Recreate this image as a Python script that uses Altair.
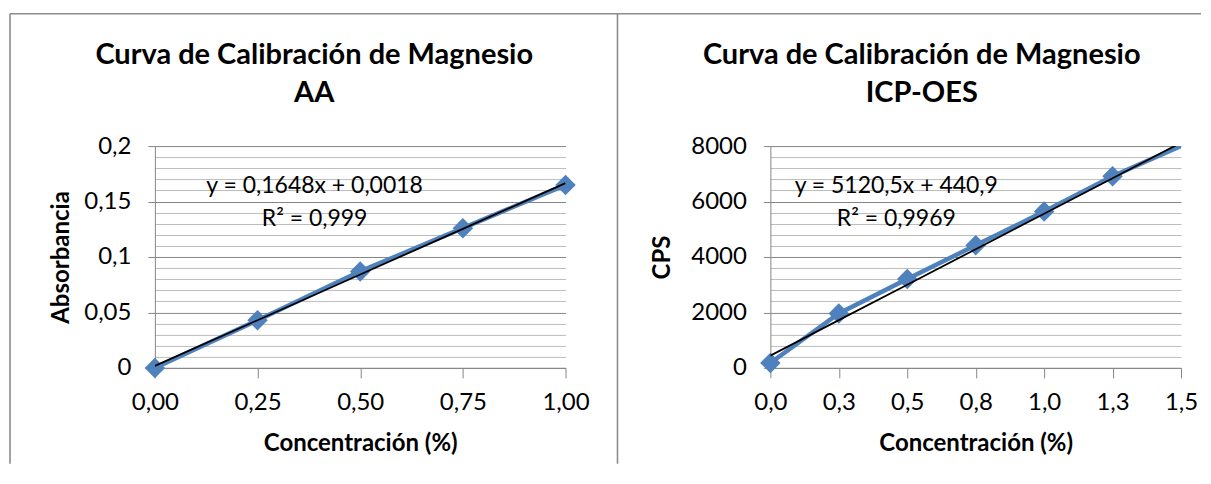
import altair as alt
import pandas as pd

# ---- data ----
aa_conc = [0.0, 0.25, 0.5, 0.75, 1.0]
aa_abs = [0.0, 0.043, 0.087, 0.126, 0.165]
aa_slope, aa_intercept = 0.1648, 0.0018
aa_eq = ["y = 0,1648x + 0,0018", "R² = 0,999"]
aa_eq_x = [0.389, 0.389]
aa_eq_y = [0.164, 0.134]

icp_conc = [0.0, 0.25, 0.5, 0.75, 1.0, 1.25, 1.75]
icp_cps = [180, 1960, 3210, 4420, 5640, 6910, 9100]
icp_slope, icp_intercept = 5120.5, 440.9
icp_eq = ["y = 5120,5x + 440,9", "R² = 0,9969"]
icp_eq_x = [0.46, 0.46]
icp_eq_y = [6560, 5370]

aa_xticks = [0.0, 0.25, 0.5, 0.75, 1.0]
aa_yticks = [round(i * 0.01, 2) for i in range(21)]
icp_xticks = [0.0, 0.25, 0.5, 0.75, 1.0, 1.25, 1.5]
icp_yticks = [i * 400 for i in range(21)]

FONT = "Lato"
BLUE = "#4F81BD"
GRAY = "#868686"
MINOR = "#bcbcbc"
W, H = 411, 222


def make_panel(xs, ys, slope, intercept, eq_text, eq_x, eq_y,
               xdom, ydom, xticks, yticks, xfmt, major_test, ylabel_expr,
               ytitle, ytitle_pad, title_lines, title_dx, borders):
    df = pd.DataFrame({"x": xs, "y": ys})
    ann = pd.DataFrame({"x": eq_x, "y": eq_y, "t": eq_text})
    one = pd.DataFrame({"a": [0]})

    xaxis = alt.Axis(values=xticks, grid=False, tickSize=10, labelPadding=13,
                     titlePadding=17, labelFlush=False, labelOverlap=False,
                     labelExpr=f"replace(format(datum.value, '{xfmt}'), '.', ',')")
    yaxis = alt.Axis(values=yticks, grid=True,
                     gridColor={"condition": {"test": major_test, "value": GRAY}, "value": MINOR},
                     gridWidth=1,
                     tickOpacity={"condition": {"test": major_test, "value": 1}, "value": 0},
                     tickSize=7, labelPadding=17, titlePadding=ytitle_pad, labelOverlap=False,
                     labelExpr=ylabel_expr)

    def X(field):
        return alt.X(f"{field}:Q", scale=alt.Scale(domain=xdom, nice=False, zero=False),
                     axis=xaxis, title="Concentración (%)")

    def Y(field):
        return alt.Y(f"{field}:Q", scale=alt.Scale(domain=ydom, nice=False, zero=False),
                     axis=yaxis, title=ytitle)

    base = alt.Chart(df)
    line = base.mark_line(color=BLUE, strokeWidth=4.5, clip=True).encode(x=X("x"), y=Y("y"))
    pts = base.transform_filter(
        f"datum.x <= {xdom[1]} && datum.y <= {ydom[1]}"
    ).mark_point(shape="diamond", filled=True, size=420, color=BLUE,
                 opacity=1).encode(x=X("x"), y=Y("y"))
    trend = base.transform_calculate(
        fit=f"{slope} * datum.x + {intercept}"
    ).mark_line(color="black", strokeWidth=1.8, clip=True).encode(x=X("x"), y=Y("fit"))
    eq = alt.Chart(ann).mark_text(font=FONT, fontSize=23, align="center",
                                  baseline="middle", color="black").encode(
        x=X("x"), y=Y("y"), text="t:N")
    title = alt.Chart(one).mark_text(font=FONT, fontSize=29, fontWeight="bold",
                                     align="center", baseline="alphabetic",
                                     lineHeight=38, color="black",
                                     text=title_lines).encode(
        x=alt.value(W / 2 + title_dx), y=alt.value(-82))
    layers = [line, pts, trend, eq, title]
    for (x1, x2, y1, y2) in borders:
        layers.append(alt.Chart(one).mark_rule(color="#8c8c8c", strokeWidth=1.6).encode(
            x=alt.value(x1), x2=alt.value(x2), y=alt.value(y1), y2=alt.value(y2)))
    return alt.layer(*layers).properties(width=W, height=H)


left = make_panel(
    aa_conc, aa_abs, aa_slope, aa_intercept, aa_eq, aa_eq_x, aa_eq_y,
    [0, 1], [0, 0.2], aa_xticks, aa_yticks, ".2f",
    "round(datum.value * 100) % 5 === 0",
    "round(datum.value * 100) % 5 === 0 ? replace(format(datum.value, '~g'), '.', ',') : ''",
    "Absorbancia", 10, ["Curva de Calibración de Magnesio", "AA"], -46,
    [(-145, -145, -132.5, 318), (-145, 1047, -132.5, -132.5), (463, 463, -132.5, 318)],
)
right = make_panel(
    icp_conc, icp_cps, icp_slope, icp_intercept, icp_eq, icp_eq_x, icp_eq_y,
    [0, 1.5], [0, 8000], icp_xticks, icp_yticks, ".1f",
    "datum.value % 2000 === 0",
    "datum.value % 2000 === 0 ? format(datum.value, 'd') : ''",
    "CPS", 16, ["Curva de Calibración de Magnesio", "ICP-OES"], -54,
    [],
)

chart = alt.hconcat(left, right, spacing=205, bounds="flush").properties(
    padding={"left": 0, "top": 4, "right": 0, "bottom": 0}
).configure_view(stroke="transparent").configure_axis(
    domainColor=GRAY, tickColor=GRAY, labelFont=FONT, labelFontSize=24,
    labelColor="black", titleFont=FONT, titleFontSize=24, titleColor="black",
    titleFontWeight="bold",
)

chart.save("out.html", embed_options={"renderer": "svg", "actions": False})
